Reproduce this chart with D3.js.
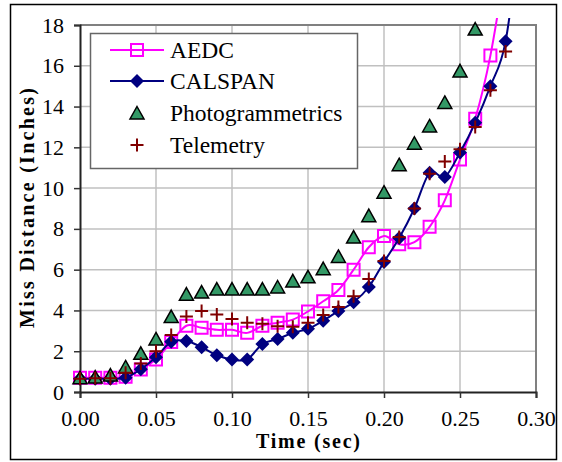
<!DOCTYPE html>
<html>
	<head>
		<meta charset="utf-8">
		<title> Miss Distance </title>
		<script src="https://cdnjs.cloudflare.com/ajax/libs/d3/7.8.5/d3.min.js"></script>
		<style>
			body { margin: 0; background: #fff; }
			text { font-family: "Liberation Serif", "Times New Roman", serif; }
		</style>
	</head>

	<body>
		<script>

		// time steps (sec)
		let time = [0.00, 0.01, 0.02, 0.03, 0.04, 0.05, 0.06, 0.07, 0.08, 0.09,
					0.10, 0.11, 0.12, 0.13, 0.14, 0.15, 0.16, 0.17, 0.18, 0.19,
					0.20, 0.21, 0.22, 0.23, 0.24, 0.25, 0.26, 0.27, 0.28, 0.29];

		// last values run off the top of the chart
		let aedc = [0.7, 0.7, 0.7, 0.75, 1.1, 1.6, 2.45, 3.25, 3.15, 3.05,
					3.05, 2.9, 3.25, 3.4, 3.55, 3.95, 4.45, 5.0, 6.0, 7.1,
					7.65, 7.25, 7.35, 8.1, 9.4, 11.4, 13.4, 16.5, 21];

		let calspan = [0.65, 0.65, 0.65, 0.7, 1.12, 1.7, 2.47, 2.5, 2.2, 1.8,
					1.6, 1.6, 2.35, 2.6, 2.9, 3.1, 3.5, 3.97, 4.4, 5.15,
					6.38, 7.55, 9.0, 10.75, 10.55, 11.75, 13.2, 15.0, 17.2, 23];

		let photo = [0.7, 0.73, 0.83, 1.23, 1.9, 2.6, 3.7, 4.8, 4.9, 5.05,
					5.05, 5.05, 5.05, 5.15, 5.45, 5.65, 6.05, 6.65, 7.6, 8.65,
					9.8, 11.15, 12.2, 13.05, 14.2, 15.75, 17.8];

		let telemetry = [0.65, 0.68, 0.68, 0.95, 1.4, 2.0, 2.8, 3.7, 3.97, 3.8,
					3.58, 3.4, 3.35, 3.22, 3.2, 3.4, 3.78, 4.17, 4.7, 5.54,
					6.42, 7.6, 9.0, 10.7, 11.3, 11.9, 13.0, 14.8, 16.7];

		let xTicks = [0, 0.05, 0.10, 0.15, 0.20, 0.25, 0.30];
		let yTicks = [0, 2, 4, 6, 8, 10, 12, 14, 16, 18];
		let seriesNames = ['AEDC', 'CALSPAN', 'Photogrammetrics', 'Telemetry'];

		let width = 562,
			height = 462,
			plotLeft = 80, plotRight = 536,
			plotTop = 25, plotBottom = 392;

		let xScale = d3.scaleLinear()
						.domain([0, 0.30])
						.range([plotLeft, plotRight]);

		let yScale = d3.scaleLinear()
						.domain([0, 18])
						.range([plotBottom, plotTop]);

		let svg = d3.select('body')
					.append('svg')
					.attr('width', width)
					.attr('height', height);

		// outer border
		svg.append('rect')
			.attr('x', 10.5).attr('y', 4.5)
			.attr('width', 546).attr('height', 455)
			.attr('fill', 'white')
			.attr('stroke', 'black')
			.attr('stroke-width', 1.5);

		// grid
		svg.append('g')
			.selectAll('line')
			.data(yTicks.slice(1, -1))
			.enter()
			.append('line')
			.attr('x1', plotLeft).attr('x2', plotRight)
			.attr('y1', d => yScale(d)).attr('y2', d => yScale(d))
			.attr('stroke', '#c0c0c0')
			.attr('stroke-width', 1.5);

		svg.append('g')
			.selectAll('line')
			.data(xTicks.slice(1, -1))
			.enter()
			.append('line')
			.attr('y1', plotTop).attr('y2', plotBottom)
			.attr('x1', d => xScale(d)).attr('x2', d => xScale(d))
			.attr('stroke', '#c0c0c0')
			.attr('stroke-width', 1.5);

		// plot frame top / right
		svg.append('path')
			.attr('d', `M${plotLeft},${plotTop}H${plotRight}V${plotBottom}`)
			.attr('fill', 'none')
			.attr('stroke', '#808080')
			.attr('stroke-width', 2);

		// axes
		let xAxis = d3.axisBottom(xScale)
					.tickValues(xTicks)
					.tickSize(6)
					.tickPadding(12)
					.tickFormat(d3.format('.2f'));

		let yAxis = d3.axisLeft(yScale)
					.tickValues(yTicks)
					.tickSize(6)
					.tickPadding(10)
					.tickFormat(d3.format('d'));

		let gx = svg.append('g')
			.attr('transform', `translate(0,${plotBottom})`)
			.call(xAxis);

		let gy = svg.append('g')
			.attr('transform', `translate(${plotLeft},0)`)
			.call(yAxis);

		[gx, gy].forEach(g => {
			g.select('.domain').attr('stroke', '#222').attr('stroke-width', 2);
			g.selectAll('.tick line').attr('stroke', '#333').attr('stroke-width', 1.5);
			g.selectAll('.tick text')
				.attr('fill', 'black')
				.style('font-family', '"Liberation Serif", serif')
				.style('font-size', '22px');
		});

		// axis titles
		svg.append('text')
			.attr('x', (plotLeft + plotRight) / 2)
			.attr('y', 448)
			.attr('text-anchor', 'middle')
			.attr('font-weight', 'bold')
			.attr('font-size', 20)
			.attr('textLength', 104)
			.attr('lengthAdjust', 'spacing')
			.text('Time (sec)');

		svg.append('text')
			.attr('transform', 'translate(34,208) rotate(-90)')
			.attr('text-anchor', 'middle')
			.attr('font-weight', 'bold')
			.attr('font-size', 20)
			.attr('textLength', 240)
			.attr('lengthAdjust', 'spacing')
			.text('Miss Distance (Inches)');

		// markers
		let square = 'M-6,-6H6V6H-6Z',
			diamond = 'M0,-7L7,0L0,7L-7,0Z',
			triangle = 'M0,-6.5L7,6H-7Z',
			plus = 'M-6.5,0H6.5M0,-6.5V6.5';

		svg.append('clipPath')
			.attr('id', 'clip')
			.append('rect')
			.attr('x', plotLeft).attr('y', 18)
			.attr('width', plotRight - plotLeft).attr('height', plotBottom - 18);

		let smooth = d3.line()
					.x((d, i) => xScale(time[i]))
					.y(d => yScale(d))
					.curve(d3.curveCatmullRom.alpha(0));

		function drawSeries(values, lineColor, shape, fill, stroke, sw) {
			if (lineColor) {
				svg.append('path')
					.datum(values)
					.attr('clip-path', 'url(#clip)')
					.attr('d', smooth)
					.attr('fill', 'none')
					.attr('stroke', lineColor)
					.attr('stroke-width', 2);
			}
			svg.append('g')
				.selectAll('path')
				.data(values.filter(d => d <= 18.5))
				.enter()
				.append('path')
				.attr('transform', (d, i) => `translate(${xScale(time[i])},${yScale(d)})`)
				.attr('d', shape)
				.attr('fill', fill)
				.attr('stroke', stroke)
				.attr('stroke-width', sw);
		}

		drawSeries(aedc, '#ff00ff', square, 'none', '#ff00ff', 2);
		drawSeries(calspan, '#000080', diamond, '#000080', 'none', 0);
		drawSeries(photo, null, triangle, '#339966', 'black', 1.5);
		drawSeries(telemetry, null, plus, 'none', '#800000', 2);

		// legend
		let legend = svg.append('g');

		legend.append('rect')
			.attr('x', 90.5).attr('y', 33.5)
			.attr('width', 267).attr('height', 135)
			.attr('fill', 'white')
			.attr('stroke', '#666')
			.attr('stroke-width', 1.5);

		let legendY = [50, 81, 113, 145],
			legendShapes = [square, diamond, triangle, plus],
			legendLine = ['#ff00ff', '#000080', null, null],
			legendFill = ['none', '#000080', '#339966', 'none'],
			legendStroke = ['#ff00ff', 'none', 'black', '#800000'],
			legendSw = [2, 0, 1.5, 2];

		seriesNames.forEach((name, i) => {
			if (legendLine[i]) {
				legend.append('line')
					.attr('x1', 110).attr('x2', 164)
					.attr('y1', legendY[i]).attr('y2', legendY[i])
					.attr('stroke', legendLine[i])
					.attr('stroke-width', 2);
			}
			legend.append('path')
				.attr('transform', `translate(137,${legendY[i]})`)
				.attr('d', legendShapes[i])
				.attr('fill', legendFill[i])
				.attr('stroke', legendStroke[i])
				.attr('stroke-width', legendSw[i]);
			legend.append('text')
				.attr('x', 170)
				.attr('y', legendY[i] + 8)
				.attr('font-size', 23.5)
				.text(name);
		});

		</script>
	</body>
</html>
